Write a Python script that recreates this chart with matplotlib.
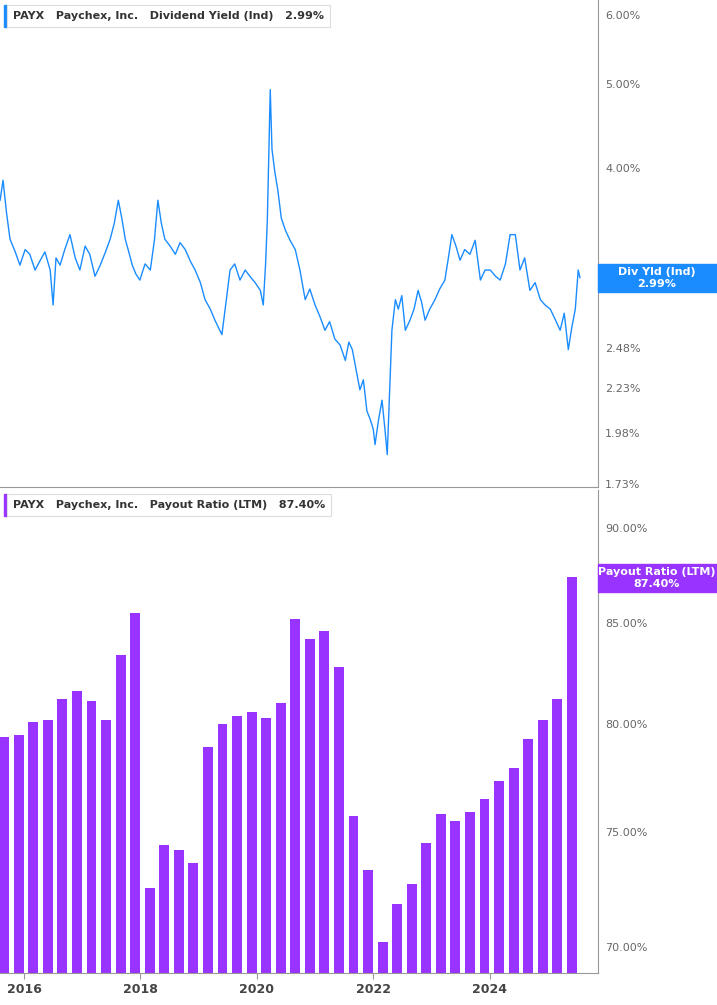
import matplotlib
matplotlib.use("Agg")
import matplotlib.pyplot as plt
from matplotlib.ticker import FixedLocator, NullLocator

# ---- data ----
yld_dates = [2015.59,2015.64,2015.70,2015.76,2015.85,2015.93,2016.02,2016.10,2016.19,2016.28,2016.36,2016.45,2016.50,
             2016.55,2016.62,2016.70,2016.79,2016.88,2016.96,2017.05,2017.13,2017.22,2017.31,2017.40,2017.48,2017.55,
             2017.62,2017.68,2017.74,2017.80,2017.86,2017.92,2017.99,2018.08,2018.17,2018.24,2018.30,2018.36,2018.42,
             2018.51,2018.60,2018.68,2018.77,2018.86,2018.94,2019.03,2019.11,2019.20,2019.28,2019.34,2019.40,2019.47,
             2019.54,2019.62,2019.71,2019.80,2019.88,2019.97,2020.06,2020.11,2020.15,2020.18,2020.21,2020.23,2020.26,
             2020.31,2020.36,2020.42,2020.49,2020.57,2020.66,2020.74,2020.83,2020.91,2021.00,2021.08,2021.17,2021.25,
             2021.34,2021.43,2021.52,2021.58,2021.64,2021.70,2021.77,2021.83,2021.89,2021.95,2022.00,2022.03,2022.09,
             2022.15,2022.20,2022.24,2022.28,2022.32,2022.38,2022.43,2022.49,2022.55,2022.63,2022.70,2022.77,2022.83,
             2022.89,2022.97,2023.06,2023.14,2023.23,2023.29,2023.35,2023.42,2023.49,2023.57,2023.66,2023.75,2023.84,
             2023.92,2024.01,2024.10,2024.18,2024.27,2024.35,2024.44,2024.52,2024.60,2024.69,2024.78,2024.87,2024.95,
             2025.04,2025.12,2025.21,2025.28,2025.35,2025.41,2025.47,2025.52,2025.55]
yld_values = [3.67,3.87,3.55,3.31,3.20,3.09,3.22,3.18,3.05,3.13,3.20,3.05,2.78,
              3.15,3.09,3.22,3.35,3.15,3.05,3.25,3.18,3.00,3.09,3.20,3.31,3.45,
              3.67,3.50,3.31,3.20,3.09,3.02,2.97,3.10,3.05,3.30,3.67,3.45,3.31,
              3.25,3.18,3.28,3.22,3.12,3.05,2.95,2.82,2.75,2.67,2.62,2.57,2.80,
              3.05,3.10,2.97,3.05,3.00,2.95,2.89,2.78,3.10,3.48,4.30,4.92,4.20,
              3.95,3.77,3.50,3.39,3.30,3.22,3.05,2.82,2.90,2.78,2.70,2.60,2.66,
              2.54,2.50,2.40,2.52,2.47,2.35,2.22,2.28,2.10,2.05,2.00,1.92,2.05,
              2.16,2.00,1.87,2.20,2.60,2.82,2.75,2.85,2.60,2.67,2.75,2.89,2.80,
              2.67,2.75,2.82,2.90,2.97,3.15,3.35,3.25,3.13,3.22,3.18,3.30,2.97,
              3.05,3.05,3.00,2.97,3.10,3.35,3.35,3.05,3.15,2.89,2.95,2.82,2.78,
              2.75,2.68,2.60,2.72,2.47,2.62,2.75,3.05,2.99]

pay_start = 2015.66
pay_values = [79.4,79.5,80.1,80.2,81.2,81.6,81.1,80.2,83.4,85.5,
              72.5,74.4,74.2,73.6,78.9,80.0,80.4,80.6,80.3,81.0,
              85.2,84.2,84.6,82.8,75.7,73.3,70.2,71.8,72.7,74.5,
              75.8,75.5,75.9,76.5,77.3,77.9,79.3,80.2,81.2,87.4]
pay_dates = [pay_start + 0.25*i for i in range(len(pay_values))]

yld_ticks = [1.73,1.98,2.23,2.48,4.0,5.0,6.0]
pay_ticks = [70,75,80,85,90]
year_ticks = [2016,2018,2020,2022,2024]

BLUE = "#1a8cff"
PURPLE = "#9933ff"
GRAY = "#666666"

fig = plt.figure(figsize=(7.17,10.05), dpi=100)
W, H = 717, 1005
ax1 = fig.add_axes([0, 1-487/H, 598/W, 487/H])
ax2 = fig.add_axes([0, 1-973/H, 598/W, (973-490)/H])
xlim = (2015.588, 2025.86)

for ax in (ax1, ax2):
    ax.set_xlim(*xlim)
    ax.set_yscale("log")
    for s in ("left","top"):
        ax.spines[s].set_visible(False)
    ax.spines["right"].set_color("#999999")
    ax.spines["bottom"].set_color("#999999")
    ax.yaxis.tick_right()
    ax.tick_params(axis="y", length=0, labelsize=8, labelcolor=GRAY, pad=5)
    ax.yaxis.set_minor_locator(NullLocator())

ax1.plot(yld_dates, yld_values, color=BLUE, lw=1)
ax1.set_ylim(1.716, 6.24)
ax1.yaxis.set_major_locator(FixedLocator(yld_ticks))
ax1.set_yticklabels([f"{t:.2f}%" for t in yld_ticks])
ax1.set_xticks([])

ax2.bar(pay_dates, pay_values, width=0.17, color=PURPLE)
ax2.set_ylim(68.9, 92.07)
ax2.yaxis.set_major_locator(FixedLocator(pay_ticks))
ax2.set_yticklabels([f"{t:.2f}%" for t in pay_ticks])
ax2.set_xticks(year_ticks)
ax2.set_xticklabels([str(y) for y in year_ticks], fontsize=9, fontweight="bold", color="#444444")
ax2.tick_params(axis="x", length=4, color="#999999")

def legend(y, color, text, val):
    fig.patches.append(plt.Rectangle((4/W, 1-(y+11)/H), 3/W, 22/H, transform=fig.transFigure, color=color))
    fig.text(13/W, 1-y/H, "PAYX   Paychex, Inc.   " + text + "   " + val, fontsize=8,
             fontweight="bold", color="#333333", va="center",
             bbox=dict(boxstyle="square,pad=0.5", fc="white", ec="#dddddd", lw=0.8))

legend(16, BLUE, "Dividend Yield (Ind)", "2.99%")
legend(505, PURPLE, "Payout Ratio (LTM)", "87.40%")

def tag(y, color, l1, l2):
    fig.patches.append(plt.Rectangle((598/W, 1-(y+14)/H), 119/W, 28/H, transform=fig.transFigure, color=color))
    fig.text(657/W, 1-(y-6)/H, l1, fontsize=8, fontweight="bold", color="white", ha="center", va="center")
    fig.text(657/W, 1-(y+6)/H, l2, fontsize=8, fontweight="bold", color="white", ha="center", va="center")

tag(278, BLUE, "Div Yld (Ind)", "2.99%")
tag(578, PURPLE, "Payout Ratio (LTM)", "87.40%")

fig.savefig("out.png", dpi=100)
